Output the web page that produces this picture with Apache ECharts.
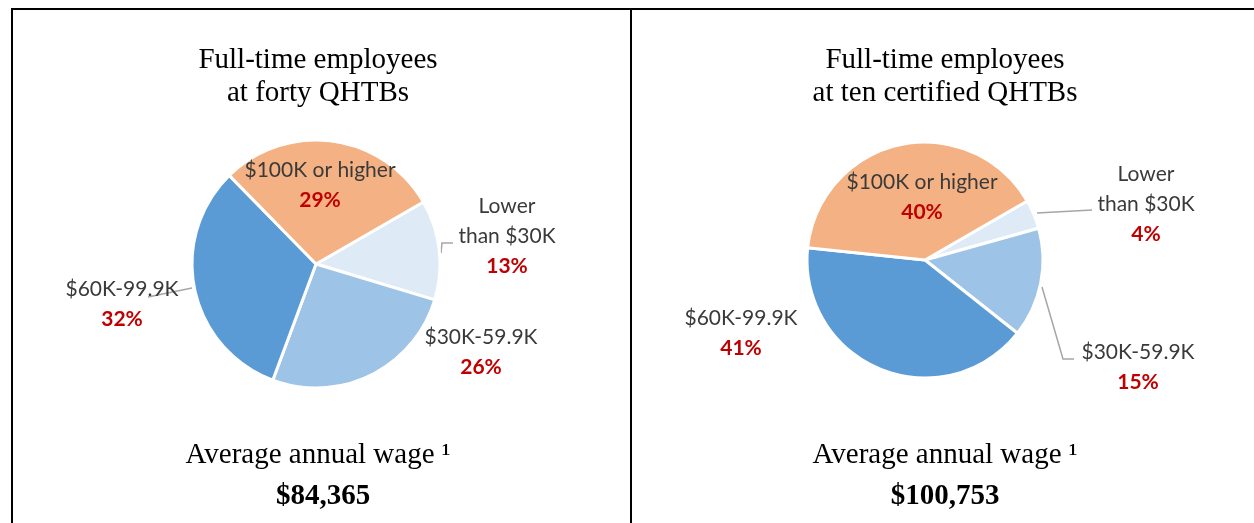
<!DOCTYPE html>
<html>
<head>
<meta charset="utf-8">
<script src="https://cdn.jsdelivr.net/npm/echarts@6/dist/echarts.min.js"></script>
<style>
html,body{margin:0;padding:0;background:#fff;}
#chart{width:1254px;height:523px;}
</style>
</head>
<body>
<div id="chart"></div>
<script>
// ---- data ----
const categories = ['Lower\nthan $30K', '$30K-59.9K', '$60K-99.9K', '$100K or higher'];
const fortyQhtbShares = [13, 26, 32, 29];
const tenCertifiedShares = [4, 15, 41, 40];
const panelTitles = ['Full-time employees\nat forty QHTBs', 'Full-time employees\nat ten certified QHTBs'];
const wageCaption = 'Average annual wage ¹';
const averageWages = ['$84,365', '$100,753'];

// ---- styling / layout (not data) ----
const sliceColors = ['#DEEBF7', '#9DC3E6', '#5B9BD5', '#F4B183'];
const pies = [
  { center: [316, 264], radius: 124, titleX: 313, wageX: 318,
    labels: [
      { x: 507, y: 236, line: [[441, 253], [442, 243], [453, 243]] },
      { x: 481, y: 352, line: null },
      { x: 122, y: 304, line: [[192, 288], [148, 297]] },
      { x: 320, y: 185, line: null }
    ] },
  { center: [925, 260], radius: 118, titleX: 940, wageX: 940,
    labels: [
      { x: 1146, y: 204, line: [[1037, 213], [1092, 210]] },
      { x: 1138, y: 367, line: [[1042, 287], [1063, 359], [1074, 359]] },
      { x: 741, y: 333, line: null },
      { x: 922, y: 197, line: null }
    ] }
];

const shareSets = [fortyQhtbShares, tenCertifiedShares];

function labelFormatter(p) {
  return p.name.split('\n').map(s => '{n|' + s + '}').join('\n') + '\n{p|' + p.value + '%}';
}

const series = pies.map((cfg, k) => ({
  type: 'pie',
  center: cfg.center,
  radius: cfg.radius,
  startAngle: 30,
  clockwise: true,
  animation: false,
  silent: true,
  itemStyle: { borderColor: '#ffffff', borderWidth: 3 },
  label: {
    show: true,
    position: 'outside',
    formatter: labelFormatter,
    rich: {
      n: { fontFamily: 'Lato', fontSize: 21, color: '#3A3A3A', lineHeight: 30, align: 'center' },
      p: { fontFamily: 'Lato', fontSize: 21, fontWeight: 'bold', color: '#C00000', lineHeight: 30, align: 'center' }
    }
  },
  labelLine: { show: true, lineStyle: { color: '#A6A6A6', width: 1.5 } },
  labelLayout: function (params) {
    const L = cfg.labels[params.dataIndex];
    const out = { x: L.x, y: L.y, align: 'center', verticalAlign: 'middle' };
    if (L.line) out.labelLinePoints = L.line;
    return out;
  },
  data: categories.map((c, i) => ({
    name: c,
    value: shareSets[k][i],
    itemStyle: { color: sliceColors[i] },
    labelLine: { show: !!cfg.labels[i].line }
  }))
}));

const serifStyle = { fontFamily: 'Liberation Serif', fontSize: 29, fontWeight: 'normal', color: '#000', lineHeight: 33 };
const titles = [];
pies.forEach((cfg, k) => {
  titles.push({ text: panelTitles[k], left: cfg.titleX, top: 39, textAlign: 'center', textStyle: serifStyle });
  titles.push({ text: wageCaption, left: cfg.titleX, top: 434, textAlign: 'center', textStyle: serifStyle });
  titles.push({ text: averageWages[k], left: cfg.wageX, top: 475, textAlign: 'center',
    textStyle: Object.assign({}, serifStyle, { fontWeight: 'bold' }) });
});

const chart = echarts.init(document.getElementById('chart'), null, { renderer: 'canvas' });
chart.setOption({
  backgroundColor: '#ffffff',
  animation: false,
  title: titles,
  graphic: [
    { type: 'line', shape: { x1: 11, y1: 9, x2: 1254, y2: 9 }, style: { stroke: '#000', lineWidth: 2 } },
    { type: 'line', shape: { x1: 12, y1: 8, x2: 12, y2: 523 }, style: { stroke: '#000', lineWidth: 2 } },
    { type: 'line', shape: { x1: 631, y1: 8, x2: 631, y2: 523 }, style: { stroke: '#000', lineWidth: 2 } }
  ],
  series: series
});
</script>
</body>
</html>
